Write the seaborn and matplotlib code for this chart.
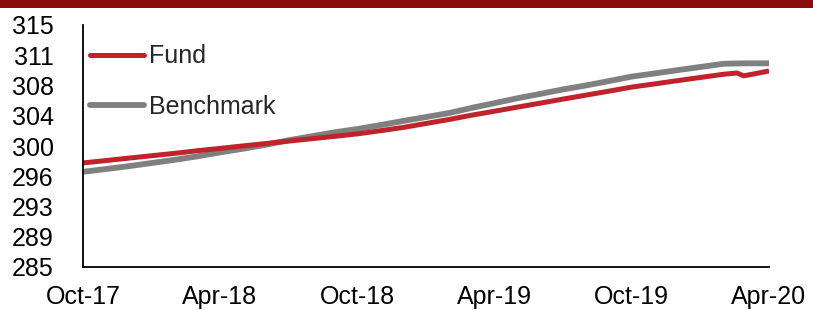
import matplotlib
matplotlib.use("Agg")
import matplotlib.pyplot as plt
import matplotlib.patches as mpatches
import numpy as np
import pandas as pd
import seaborn as sns

# ---- data ----
fund_months = [0, 1, 2, 3, 4, 5, 6, 7, 8, 9, 10, 11, 12, 13, 14, 15, 16, 17, 18,
               19, 20, 21, 22, 23, 24, 25, 26, 27, 28, 28.6, 28.9, 29.2, 30]
fund_values = [297.9, 298.2, 298.5, 298.8, 299.1, 299.4, 299.7, 300.0, 300.3, 300.6,
               300.9, 301.2, 301.5, 301.9, 302.3, 302.8, 303.3, 303.8, 304.3,
               304.8, 305.3, 305.8, 306.3, 306.8, 307.3, 307.7, 308.1, 308.5, 308.9,
               309.05, 308.7, 308.85, 309.3]
bench_months = [0, 1, 2, 3, 4, 5, 6, 7, 8, 9, 10, 11, 12, 13, 14, 15, 16, 17, 18,
                19, 20, 21, 22, 23, 24, 25, 26, 27, 28, 29, 30]
bench_values = [296.8, 297.15, 297.5, 297.9, 298.3, 298.7, 299.2, 299.65, 300.15, 300.7,
                301.2, 301.7, 302.1, 302.6, 303.1, 303.6, 304.1, 304.7, 305.3,
                305.9, 306.45, 307.0, 307.5, 308.05, 308.6, 309.0, 309.4, 309.8, 310.2,
                310.25, 310.25]
series_names = ["Fund", "Benchmark"]
x_tick_labels = ["Oct-17", "Apr-18", "Oct-18", "Apr-19", "Oct-19", "Apr-20"]
y_tick_values = [285, 288.75, 292.5, 296.25, 300, 303.75, 307.5, 311.25, 315]
y_tick_labels = ["285", "289", "293", "296", "300", "304", "308", "311", "315"]

start = pd.Timestamp("2017-10-01")


def to_date(m):
    whole = int(np.floor(m))
    frac = m - whole
    d0 = start + pd.DateOffset(months=whole)
    d1 = start + pd.DateOffset(months=whole + 1)
    return d0 + (d1 - d0) * frac


df = pd.concat([
    pd.DataFrame({"date": [to_date(m) for m in fund_months], "value": fund_values,
                  "series": series_names[0]}),
    pd.DataFrame({"date": [to_date(m) for m in bench_months], "value": bench_values,
                  "series": series_names[1]}),
])

sns.set_theme(style="white")
plt.rcParams["font.family"] = ["Liberation Sans", "DejaVu Sans"]

fig = plt.figure(figsize=(8.13, 3.10), dpi=100)
ax = fig.add_axes([83 / 813, 1 - 267 / 310, (769 - 83) / 813, (267 - 25) / 310])

palette = {"Fund": "#C0232B", "Benchmark": "#808080"}
widths = {"Fund": 3.6, "Benchmark": 4.2}
for name in series_names[::-1]:
    sub = df[df["series"] == name]
    sns.lineplot(data=sub, x="date", y="value", ax=ax, color=palette[name],
                 linewidth=widths[name], label=name, solid_capstyle="butt",
                 solid_joinstyle="round")

ax.set_xlim(start, start + pd.DateOffset(months=30))
ax.set_ylim(285, 315)
xt = [start + pd.DateOffset(months=6 * i) for i in range(len(x_tick_labels))]
ax.set_xticks(xt)
ax.set_xticklabels(x_tick_labels)
ax.set_yticks(y_tick_values)
ax.set_yticklabels(y_tick_labels)
ax.set_xlabel("")
ax.set_ylabel("")

for s in ["top", "right"]:
    ax.spines[s].set_visible(False)
for s in ["left", "bottom"]:
    ax.spines[s].set_color("black")
    ax.spines[s].set_linewidth(1.3)
ax.tick_params(axis="both", which="major", direction="out", length=5, width=1.3,
               color="black", labelsize=18, labelcolor="black")
ax.tick_params(axis="x", pad=8)
ax.tick_params(axis="y", pad=16)
ax.grid(False)

handles, labels = ax.get_legend_handles_labels()
order = [labels.index(n) for n in series_names]
leg = ax.legend([handles[i] for i in order], [labels[i] for i in order],
                loc="upper left", bbox_to_anchor=(0.0102, 0.92), frameon=False,
                fontsize=18, handlelength=2.16, handletextpad=0.2, labelspacing=1.06,
                borderpad=0, borderaxespad=0)
for line in leg.get_lines():
    line.set_solid_capstyle("round")

fig.patches.append(mpatches.Rectangle((0, 1 - 8 / 310), 1, 8 / 310, transform=fig.transFigure,
                                      facecolor="#8A0C0E", edgecolor="none", zorder=0))

fig.savefig("out.png", dpi=100)
